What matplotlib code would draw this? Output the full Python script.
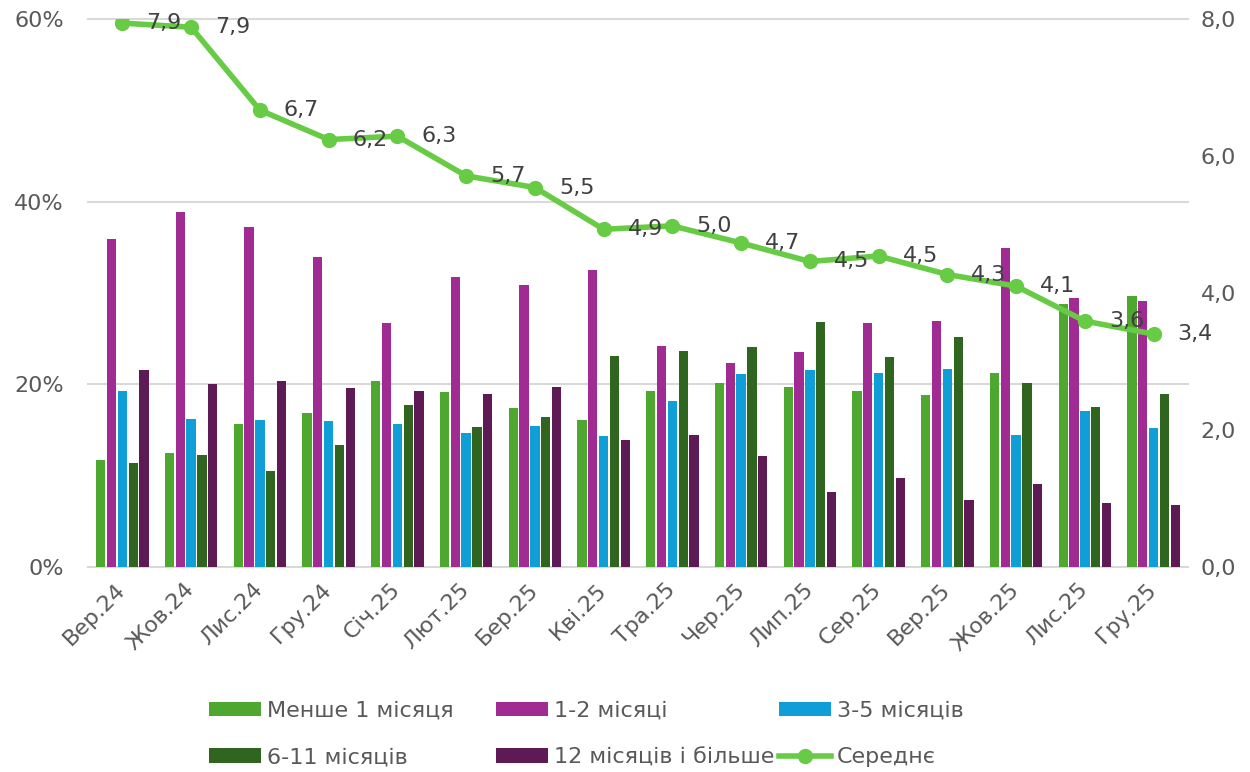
import matplotlib
matplotlib.use("Agg")
import matplotlib.pyplot as plt
import numpy as np
from matplotlib.ticker import FuncFormatter, FixedLocator
from matplotlib.patches import Patch
from matplotlib.lines import Line2D

categories = ["Вер.24", "Жов.24", "Лис.24", "Гру.24", "Січ.25", "Лют.25", "Бер.25", "Кві.25",
              "Тра.25", "Чер.25", "Лип.25", "Сер.25", "Вер.25", "Жов.25", "Лис.25", "Гру.25"]
less_1 = [11.7, 12.5, 15.7, 16.9, 20.4, 19.2, 17.4, 16.1, 19.3, 20.1, 19.7, 19.3, 18.8, 21.2, 28.8, 29.7]
m1_2 = [35.9, 38.9, 37.2, 33.9, 26.7, 31.7, 30.9, 32.5, 24.2, 22.3, 23.5, 26.7, 26.9, 34.9, 29.4, 29.1]
m3_5 = [19.3, 16.2, 16.1, 16.0, 15.7, 14.7, 15.4, 14.3, 18.2, 21.1, 21.6, 21.2, 21.7, 14.5, 17.1, 15.2]
m6_11 = [11.35, 12.3, 10.5, 13.4, 17.7, 15.3, 16.4, 23.1, 23.7, 24.1, 26.8, 23.0, 25.2, 20.1, 17.5, 18.9]
m12p = [21.6, 20.0, 20.4, 19.6, 19.3, 18.9, 19.7, 13.9, 14.5, 12.2, 8.2, 9.7, 7.3, 9.1, 7.0, 6.8]
average = [7.94, 7.88, 6.67, 6.24, 6.29, 5.71, 5.54, 4.93, 4.98, 4.73, 4.46, 4.54, 4.27, 4.10, 3.59, 3.40]

series_names = ["Менше 1 місяця", "1-2 місяці", "3-5 місяців", "6-11 місяців", "12 місяців і більше"]
line_name = "Середнє"
colors = ["#4EA72E", "#A02B93", "#0F9ED5", "#2F651E", "#5E1A54"]
line_color = "#68CB45"

plt.rcParams['font.family'] = ['DejaVu Sans']
TICK_COLOR = "#595959"
LABEL_COLOR = "#404040"
FS = 16

fig = plt.figure(figsize=(12.5, 7.72), dpi=100)
ax = fig.add_axes([88 / 1250, 1 - 567 / 772, 1100 / 1250, 548 / 772])

x = np.arange(len(categories))
bar_series = [less_1, m1_2, m3_5, m6_11, m12p]
stride = 0.158
width = 0.135
for i, (vals, c) in enumerate(zip(bar_series, colors)):
    ax.bar(x + (i - 2) * stride, np.array(vals) / 100.0, width=width, color=c, zorder=3)

ax.set_xlim(-0.5, len(categories) - 0.5)
ax.set_ylim(0, 0.6)
ax.yaxis.set_major_locator(FixedLocator([0, 0.2, 0.4, 0.6]))
ax.yaxis.set_major_formatter(FuncFormatter(lambda v, p: f"{v * 100:.0f}%"))
ax.grid(axis='y', color="#D9D9D9", linewidth=1.5, zorder=0)
for gl in ax.get_ygridlines():
    gl.set_clip_on(False)
for s in ax.spines.values():
    s.set_visible(False)
ax.set_xticks(x)
ax.set_xticklabels(categories, rotation=45, ha='right', va='center', rotation_mode='anchor')
ax.tick_params(axis='x', length=0, pad=14, labelsize=FS, labelcolor=TICK_COLOR)
ax.tick_params(axis='y', length=0, pad=17.5, labelsize=FS, labelcolor=TICK_COLOR)

ax2 = ax.twinx()
ax2.set_ylim(0, 8)
ax2.yaxis.set_major_locator(FixedLocator([0, 2, 4, 6, 8]))
ax2.yaxis.set_major_formatter(FuncFormatter(lambda v, p: f"{v:.1f}".replace('.', ',')))
for s in ax2.spines.values():
    s.set_visible(False)
ax2.tick_params(axis='y', length=0, pad=9, labelsize=FS, labelcolor=TICK_COLOR)
ax2.plot(x, average, color=line_color, linewidth=4, marker='o', markersize=10,
         zorder=5, solid_capstyle='round')
for xi, v in zip(x, average):
    ax2.annotate(f"{v:.1f}".replace('.', ','), (xi, v), xytext=(24, 0), textcoords='offset pixels',
                 ha='left', va='center', fontsize=FS, color=LABEL_COLOR, zorder=6)

handles = [Patch(facecolor=c) for c in colors]
line_handle = Line2D([], [], color=line_color, linewidth=4, marker='o', markersize=10)
columns = [
    ([handles[0], handles[3]], [series_names[0], series_names[3]], 209),
    ([handles[1], handles[4]], [series_names[1], series_names[4]], 496),
    ([handles[2], line_handle], [series_names[2], line_name], 779),
]
for hs, ls, xpix in columns:
    leg = fig.legend(hs, ls, loc='center left', bbox_to_anchor=(xpix / 1250, 1 - 734 / 772),
                     bbox_transform=fig.transFigure, frameon=False, fontsize=FS,
                     borderpad=0, borderaxespad=0, handlelength=2.34, handleheight=0.63,
                     handletextpad=0.27, labelspacing=1.2, labelcolor=TICK_COLOR)

fig.savefig("out.png", dpi=100)
